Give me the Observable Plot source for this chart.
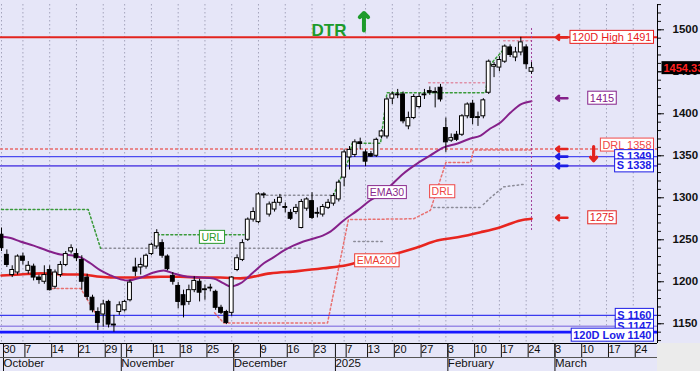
<!DOCTYPE html>
<html><head><meta charset="utf-8">
<script src="https://cdn.jsdelivr.net/npm/d3@7"></script>
<script src="https://cdn.jsdelivr.net/npm/@observablehq/plot@0.6"></script>
<style>
body{margin:0;background:#fff}
#chart svg{display:block}
.yaxlab{font-weight:bold}
</style></head><body><div id="chart"></div>
<script>
// ---- candle data (trading-day index = array position) ----
const open  = [1256,1232,1208,1211,1230,1213,1218,1205,1200,1214,1194,1208,1220,1236,1233,1226,1205,1181,1164,1161,1176,1149,1164,1166,1178,1217,1217,1218,1233,1242,1246,1230,1207,1195,1184,1176,1190,1200,1191,1193,1188,1169,1164,1163,1214,1226,1250,1274,1271,1304,1280,1286,1294,1289,1282,1283,1264,1287,1296,1282,1280,1288,1293,1298,1324,1348,1351,1366,1354,1352,1350,1373,1373,1418,1423,1423,1385,1395,1408,1423,1427,1426,1431,1383,1368,1375,1375,1397,1412,1396,1397,1425,1456,1455,1462,1479,1467,1473,1479,1450];
const high  = [1264,1238,1219,1232,1234,1224,1221,1208,1219,1219,1214,1224,1236,1244,1239,1231,1209,1184,1169,1178,1178,1160,1176,1178,1202,1228,1228,1233,1246,1262,1250,1232,1211,1199,1190,1196,1206,1203,1196,1197,1190,1172,1166,1206,1232,1250,1276,1288,1306,1306,1295,1298,1304,1294,1286,1292,1298,1300,1306,1288,1292,1298,1305,1321,1357,1361,1369,1371,1357,1355,1371,1381,1419,1426,1429,1426,1402,1423,1424,1429,1432,1431,1435,1395,1376,1379,1399,1413,1416,1402,1418,1464,1461,1468,1482,1482,1479,1491,1482,1461];
const low   = [1236,1217,1205,1208,1220,1209,1201,1197,1197,1189,1191,1205,1218,1233,1224,1190,1178,1163,1142,1146,1145,1140,1160,1164,1176,1206,1208,1215,1231,1239,1228,1213,1196,1168,1157,1172,1187,1176,1178,1188,1166,1161,1149,1159,1212,1224,1248,1271,1269,1299,1277,1283,1290,1282,1273,1280,1263,1284,1274,1276,1277,1286,1290,1295,1313,1333,1348,1357,1337,1348,1348,1370,1370,1411,1418,1388,1381,1393,1406,1417,1422,1407,1414,1354,1366,1367,1373,1394,1387,1385,1394,1423,1443,1450,1460,1467,1462,1469,1453,1447];
const close = [1240,1220,1214,1230,1225,1219,1205,1202,1208,1190,1211,1220,1233,1240,1228,1200,1182,1166,1151,1173,1149,1148,1172,1176,1199,1212,1220,1231,1244,1258,1231,1215,1200,1176,1172,1190,1201,1187,1190,1192,1169,1163,1151,1205,1228,1246,1274,1283,1304,1303,1292,1294,1300,1288,1275,1288,1295,1298,1276,1281,1289,1294,1302,1318,1354,1357,1366,1364,1343,1349,1369,1379,1417,1423,1422,1391,1395,1420,1420,1422,1425,1425,1417,1366,1371,1369,1397,1411,1395,1395,1416,1462,1458,1464,1480,1470,1473,1485,1459,1454.33];

// ---- moving averages [index, value] ----
const ema30 = [[0,1254],[1.7,1252],[3.5,1248],[6,1243],[8.6,1237],[11,1232.5],[12.9,1231.7],[14.8,1229],[16.6,1222],[18.5,1213.5],[20.4,1207.5],[21.7,1204],[23.5,1201.5],[26,1205],[28.4,1211],[30.3,1213.5],[32.1,1210],[34.7,1206],[37.2,1205],[39.6,1204],[41.5,1198],[42.8,1194.4],[44.6,1198],[47,1211],[49,1222],[50.8,1229],[52.7,1237],[54.5,1243],[56.4,1248],[58.3,1251.5],[60,1255],[61.5,1260],[63.9,1273],[66.5,1285],[68.9,1297],[71.3,1306],[72.3,1312],[75.1,1329],[77.7,1341],[80.1,1350.4],[82.6,1360],[85.2,1364.6],[87.6,1370.6],[89.5,1374],[91.3,1382.5],[93.2,1389.6],[95.1,1401.5],[96.9,1411],[99,1415]];
const ema200 = [[0,1207.5],[3.5,1208.7],[7.3,1210],[12.3,1208.7],[14.8,1208.7],[18.5,1206],[22.2,1205],[26,1205],[29.7,1206],[33.4,1206],[37.2,1205],[40.9,1205],[44.6,1204],[50.2,1210],[55.3,1212.7],[60.1,1216],[64.6,1220],[68.9,1228],[74,1234],[77.7,1241],[81.4,1249],[85.2,1253],[89.5,1259],[93.2,1265],[96.9,1273],[99,1275]];

// ---- trailing level paths [index, value] ----
const urlPaths  = [[[0,1286],[16.2,1286],[18.5,1240]], [[29.1,1256],[45.3,1256]], [[62,1303],[64.8,1345],[65.5,1365],[70.8,1365],[72,1425],[90.4,1425],[91.2,1458],[94,1478]]];
const grayPaths = [[[18.5,1240],[55.8,1240]], [[47.8,1303],[62,1303]], [[65.8,1248],[71.3,1248]], [[80.7,1288.5],[89.5,1288.5]], [[90,1292],[91.5,1301],[93.8,1313],[97.5,1316]]];
const drlPaths  = [[[9.5,1192],[14.8,1192],[17.5,1163]], [[39.8,1163],[41.5,1151],[60.9,1151],[64.8,1274],[77,1275],[80.1,1285],[83,1342],[87.6,1342],[88.2,1357],[99,1357]]];
const topPaths  = [[[79.8,1437],[90.4,1437]], [[93.8,1487],[99,1487]]];

// ---- horizontal levels ----
const levelNames  = ["120D High 1491","DRL 1358","S 1349","S 1338","S 1160","S 1147","120D Low 1140"];
const levelValues = [1491,1358,1349,1338,1160,1147,1140];

// ---- axis labels ----
const dayTickPos = [0,4,9,14,19,23,28,33,38,43,48,53,58,64,68,73,78,83,88,93,98,103,108,113,118];
const dayTickLab = ["30","7","14","21","29","4","11","18","25","2","9","16","23","7","13","20","27","3","10","17","24","3","10","17","24"];
const monthPos = [0,22,43,62,83,103];
const monthLab = ["October","November","December","2025","February","March"];
const yMajor = [1150,1200,1250,1300,1350,1400,1450,1500];

// ---- annotations ----
const midLabels = [
  {t:"URL", i:39.3, v:1252.7, c:"#2a9a2a"},
  {t:"EMA30", i:72, v:1306, c:"#8a2a8e"},
  {t:"DRL", i:82.3, v:1307, c:"#ee4444"},
  {t:"EMA200", i:70.1, v:1224.8, c:"#ee3a30"}
];

const RED="#e3241f", PURPLE="#85208a", BLUE="#1c1ce6", GREEN="#1d9b2b";
const candles = open.map((o,i)=>({i, o, h:high[i], l:low[i], c:close[i]}));
const last = candles[candles.length-1];
const segs = arrs => arrs.flatMap((a,k)=>a.map(([i,v])=>({seg:k,i,v})));
const pairs = a => a.map(([i,v])=>({i,v}));
const labMap = new Map(dayTickPos.map((p,k)=>[p,dayTickLab[k]]));
const monMap = new Map(monthPos.map((p,k)=>[p,monthLab[k]]));

const lvlStyle = [
  {stroke:RED, w:2, dash:null, col:"#e8201c", bold:"normal", dy:0},
  {stroke:"#e86a6a", w:1.6, dash:"3,2", col:"#f04848", bold:"normal", dy:-4},
  {stroke:"#4b4bf0", w:1.2, dash:null, col:BLUE, bold:"bold", dy:0},
  {stroke:"#6a5ae6", w:1.6, dash:null, col:BLUE, bold:"bold", dy:0},
  {stroke:"#3a3aee", w:1.4, dash:null, col:BLUE, bold:"bold", dy:0},
  {stroke:"#9a8ce6", w:1.4, dash:null, col:BLUE, bold:"bold", dy:0},
  {stroke:"#1818ff", w:2.6, dash:null, col:BLUE, bold:"bold", dy:3}
];
const arrowSpecs = [
  {v:levelValues[0], c:RED, dy:0},
  {v:ema30[ema30.length-1][1], c:PURPLE, dy:-3},
  {v:levelValues[1], c:RED, dy:0},
  {v:levelValues[2], c:BLUE, dy:0},
  {v:levelValues[3], c:BLUE, dy:0},
  {v:ema200[ema200.length-1][1], c:RED, dy:-1}
];

const xDom = [-0.187, 122.53], yDom = [1126.5, 1530.1];

const chart = Plot.plot({
  width:700, height:371,
  marginLeft:0, marginRight:43, marginTop:4, marginBottom:28,
  style:{background:"#e6e6f8", fontFamily:"'Liberation Sans', Arial, sans-serif", fontSize:"11px", color:"#111"},
  x:{domain:xDom, axis:null, label:null},
  y:{domain:yDom, axis:null, label:null},
  marks:[
    Plot.ruleX(dayTickPos, {stroke:"#a4a4bc", strokeDasharray:"1.5,2.5"}),
    ...levelValues.map((v,k)=>Plot.ruleY([v], {stroke:lvlStyle[k].stroke, strokeWidth:lvlStyle[k].w, strokeDasharray:lvlStyle[k].dash})),
    Plot.line(segs(grayPaths), {x:"i", y:"v", z:"seg", stroke:"#8c8c98", strokeDasharray:"1.5,3"}),
    Plot.line(segs(urlPaths), {x:"i", y:"v", z:"seg", stroke:"#3a9a3a", strokeDasharray:"2,2.5"}),
    Plot.line(segs(drlPaths), {x:"i", y:"v", z:"seg", stroke:"#e87070", strokeDasharray:"2,2.5"}),
    Plot.line(segs(topPaths), {x:"i", y:"v", z:"seg", stroke:"#e090a8", strokeDasharray:"1.5,3"}),
    Plot.line(pairs(ema200), {x:"i", y:"v", stroke:"#e8251f", strokeWidth:2.6, curve:"monotone-x"}),
    Plot.line(pairs(ema30), {x:"i", y:"v", stroke:PURPLE, strokeWidth:2, curve:"monotone-x"}),
    Plot.ruleX([last], {x:"i", y1:()=>1261, y2:()=>1502, stroke:"#a0409a", strokeDasharray:"2,2"}),
    Plot.ruleX(candles, {x:"i", y1:"l", y2:"h", stroke:"#000"}),
    Plot.rect(candles, {x1:d=>d.i-0.36, x2:d=>d.i+0.36, y1:"o", y2:"c", fill:d=>d.c>=d.o?"#fff":"#000", stroke:"#000"}),
    // arrows
    ...arrowSpecs.map(a=>Plot.arrow([a], {x1:()=>105.7, x2:()=>103.6, y1:"v", y2:"v", stroke:a.c, strokeWidth:2.6, headLength:6, headAngle:80, dy:a.dy})),
    Plot.arrow([levelValues[1]], {x1:()=>110.6, x2:()=>110.6, y1:()=>1361, y2:()=>1344, stroke:RED, strokeWidth:3.2, headLength:7, headAngle:80}),
    Plot.arrow(["DTR"], {x1:()=>67.7, x2:()=>67.7, y1:()=>1499, y2:()=>1520, stroke:GREEN, strokeWidth:4, headLength:8, headAngle:90}),
    Plot.text(["DTR"], {frameAnchor:"top", dy:19.5, text:d=>d, fill:GREEN, fontSize:17, fontWeight:"bold"}),
    // mid labels
    ...midLabels.map(m=>Plot.text([m], {x:"i", y:"v", text:"t", fill:m.c, fontSize:10.5, className:"boxed"})),
    // level labels on the right
    ...levelNames.map((t,k)=>Plot.text([{t, v:levelValues[k]}], {y:"v", text:"t", frameAnchor:"right", dx:-6, dy:lvlStyle[k].dy, textAnchor:"end", fill:lvlStyle[k].col, fontWeight:lvlStyle[k].bold, fontSize:11, className:"boxed"})),
    Plot.text([{t:String(ema30[ema30.length-1][1]), v:ema30[ema30.length-1][1]}], {y:"v", text:"t", frameAnchor:"right", dx:-55.5, dy:-3, textAnchor:"middle", fill:PURPLE, fontSize:11, className:"boxed"}),
    Plot.text([{t:String(ema200[ema200.length-1][1]), v:ema200[ema200.length-1][1]}], {y:"v", text:"t", frameAnchor:"right", dx:-55.5, dy:-1, textAnchor:"middle", fill:RED, fontSize:11, className:"boxed"}),
    // axes
    Plot.ruleX([xDom[1]], {stroke:"#000"}),
    Plot.ruleY([yDom[0]], {stroke:"#000"}),
    Plot.axisY({anchor:"right", label:null, ticks:d3.range(1130,1531,10), tickSize:3, tickFormat:()=>""}),
    Plot.axisY({anchor:"right", label:null, ticks:yMajor, tickSize:6, tickPadding:9, textAnchor:"start", tickFormat:d=>String(d), fontSize:11.5, className:"yaxlab"}),
    Plot.axisX({label:null, ticks:dayTickPos, tickSize:14, tickPadding:-12, tickFormat:d=>labMap.get(d), textAnchor:"start", dx:2, fontSize:11}),
    Plot.axisX({label:null, ticks:monthPos, tickSize:28, tickPadding:-13, tickFormat:d=>monMap.get(d), textAnchor:"start", dx:2, fontSize:11.5}),
    // last price tag over the axis
    Plot.text([last], {y:"c", text:d=>d3.format(".2f")(d.c), frameAnchor:"right", dx:6, textAnchor:"start", fill:"#ff2020", fontWeight:"bold", fontSize:11, className:"boxblack"})
  ]
});
document.getElementById("chart").append(chart);

// boxes behind labels
const NS="http://www.w3.org/2000/svg";
chart.querySelectorAll("g.boxed text, g.boxblack text").forEach(t=>{
  const b=t.getBBox();
  const black=!!t.closest("g.boxblack");
  const r=document.createElementNS(NS,"rect");
  r.setAttribute("x",b.x-2); r.setAttribute("y",b.y-0.5);
  r.setAttribute("width",b.width+4); r.setAttribute("height",b.height+1);
  if(t.getAttribute("transform")) r.setAttribute("transform",t.getAttribute("transform"));
  r.setAttribute("fill",black?"#000":"#fff");
  r.setAttribute("stroke",black?"none":getComputedStyle(t).fill);
  t.parentNode.insertBefore(r,t);
});
// axis chrome
const sv=d3.select(chart);
sv.insert("rect",":first-child").attr("x",657).attr("y",343).attr("width",43).attr("height",28).attr("fill","#ebebeb");
sv.append("line").attr("x1",0).attr("x2",657).attr("y1",357.5).attr("y2",357.5).attr("stroke","#555");
</script></body></html>
